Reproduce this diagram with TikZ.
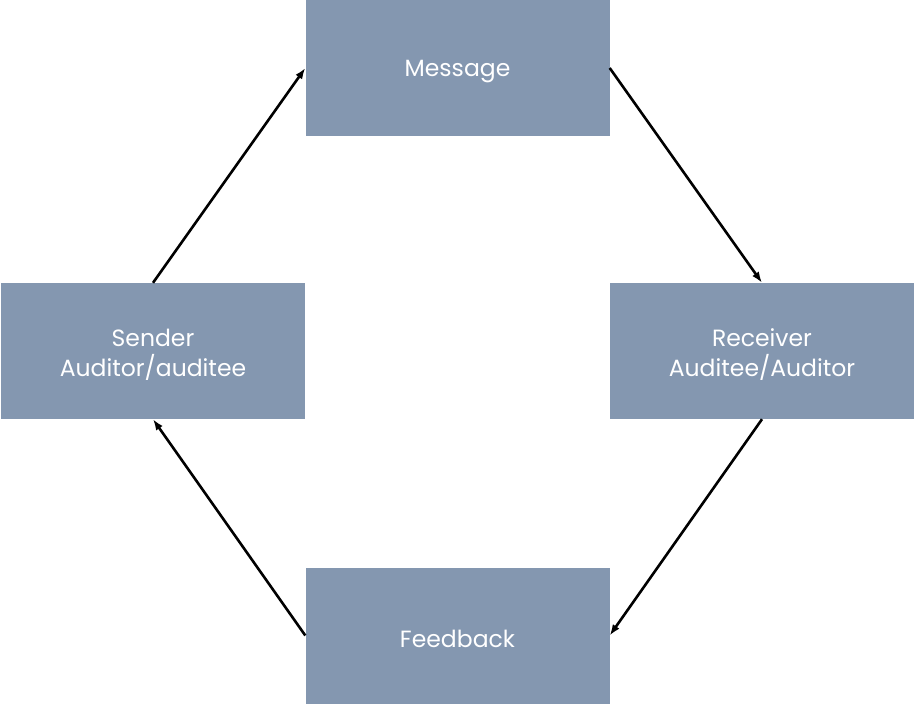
\documentclass[tikz,border=0pt]{standalone}
\usepackage{fontspec}
\setmainfont{Poppins}
\usetikzlibrary{arrows.meta}
\definecolor{boxc}{HTML}{8497B0}
\begin{document}
\begin{tikzpicture}[x=1pt,y=-1pt,
  box/.style={fill=boxc,draw=none,minimum width=304pt,minimum height=136pt,inner sep=0pt},
  txt/.style={text=white,align=center,inner sep=0pt,yshift=-3.5pt,font=\fontsize{23.5}{30}\selectfont},
  conn/.style={line width=2.6pt,-{Latex[length=11pt,width=8pt]}}]
\useasboundingbox (0,0) rectangle (914,704);
\node[box] (msg) at (457.5,68) {};
\node[box] (snd) at (153,351) {};
\node[box] (rcv) at (762,351) {};
\node[box] (fb) at (457.5,635.5) {};
\node[txt] (msgt) at (msg) {Message};
\node[txt] (sndt) at (snd) {Sender\\Auditor/auditee};
\node[txt] (rcvt) at (rcv) {Receiver\\Auditee/Auditor};
\node[txt] (fbt) at (fb) {Feedback};
\draw[conn] (snd.north) -- (msg.west);
\draw[conn] (msg.east) -- (rcv.north);
\draw[conn] (rcv.south) -- (fb.east);
\draw[conn] (fb.west) -- (snd.south);
\end{tikzpicture}
\end{document}
